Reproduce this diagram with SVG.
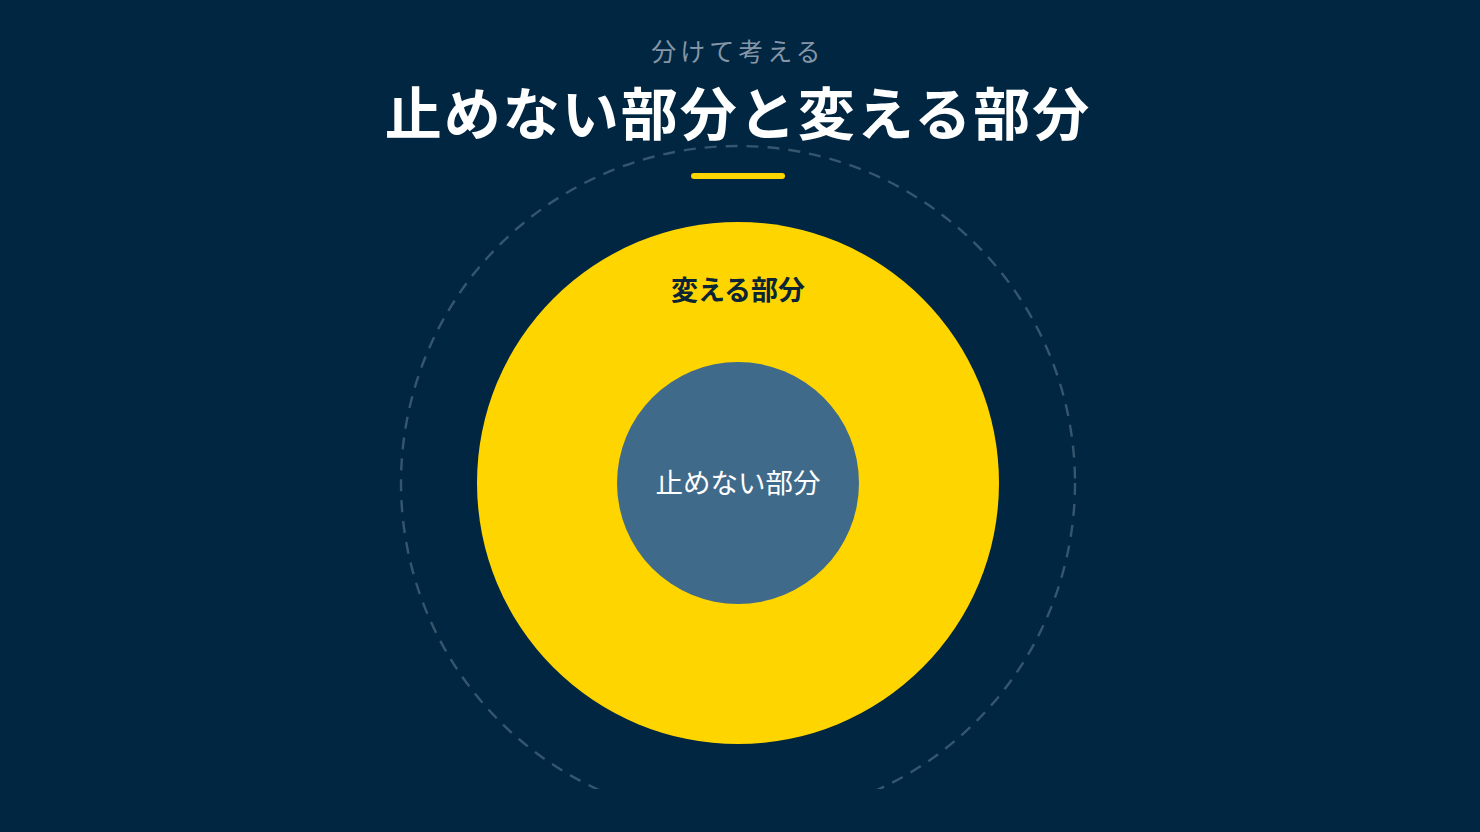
<svg xmlns="http://www.w3.org/2000/svg" width="1480" height="832" viewBox="0 0 1480 832">
<style>
.t{font-family:"Noto Sans CJK JP","Noto Sans",sans-serif;text-anchor:middle}
</style>
<defs>
<clipPath id="clip"><rect x="0" y="0" width="1480" height="789"/></clipPath>
</defs>
<rect width="1480" height="832" fill="#012641"/>
<g id="header">
<text class="t" x="738" y="61" font-size="25" fill="#8496a7" letter-spacing="4">分けて考える</text>
<text class="t" x="738" y="135" font-size="57" font-weight="700" fill="#ffffff" letter-spacing="2">止めない部分と変える部分</text>
<rect x="691" y="173" width="94" height="6" rx="3" fill="#ffd500"/>
</g>
<g id="outer-ring" clip-path="url(#clip)">
<circle cx="738" cy="483" r="337" fill="none" stroke="#36566f" stroke-width="2.4" stroke-dasharray="12 9"/>
</g>
<g id="change-part">
<circle cx="738" cy="483" r="261" fill="#ffd500"/>
<text class="t" x="738" y="300" font-size="27" font-weight="700" fill="#0b2536">変える部分</text>
</g>
<g id="keep-part">
<circle cx="738" cy="483" r="121" fill="#406a8a"/>
<text class="t" x="738" y="493" font-size="27.5" fill="#ffffff">止めない部分</text>
</g>
</svg>
